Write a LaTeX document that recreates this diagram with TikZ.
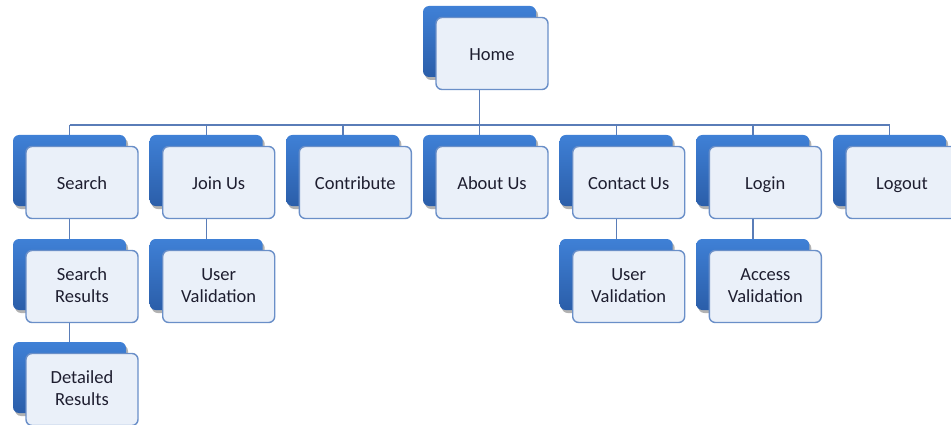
\documentclass[tikz,border=0pt]{standalone}
\usepackage{fontspec}
\setmainfont{Carlito}
\usetikzlibrary{shadows}
\pgfdeclarelayer{background}
\pgfsetlayers{background,main}
\definecolor{backtop}{HTML}{3F80D6}
\definecolor{backbot}{HTML}{2B5EA9}
\definecolor{frontfill}{HTML}{EAF0F9}
\definecolor{frontline}{HTML}{6A8FC8}
\definecolor{linkline}{HTML}{5A7DB8}
\definecolor{labeltext}{HTML}{1E1E30}
\tikzset{
  backbox/.style={rectangle, rounded corners=6pt, minimum width=113pt,
    minimum height=71pt, top color=backtop, bottom color=backbot, draw=none,
    drop shadow={shadow xshift=2pt, shadow yshift=-3pt, opacity=0.3, fill=black}},
  frontbox/.style={rectangle, rounded corners=6pt, minimum width=112pt,
    minimum height=72pt, fill=frontfill, draw=frontline, line width=1.4pt,
    align=center, font=\fontsize{18.5}{22}\selectfont, text=labeltext, inner sep=0pt,
    execute at begin node=\rule{0pt}{20pt}},
  link/.style={draw=linkline, line width=1.4pt}
}
% [#1] depth kept under the last line, #2 name, #3 left edge of the back card,
% #4 top edge of the back card, #5 label
\newcommand\sitecard[5][6.2pt]{%
  \node[backbox] (#2b) at (#3+56.5, #4+35.5) {};
  \node[frontbox, execute at end node={\rule[-#1]{0pt}{0pt}}] (#2) at (#3+69, #4+47.5) {#5};}
\begin{document}
\begin{tikzpicture}[x=1pt, y=-1pt]
  \useasboundingbox (0,0) rectangle (951,425);
  \coordinate (bus) at (0,125);

  \sitecard{home}{423}{6}{Home}

  \sitecard{search}{13}{135}{Search}
  \sitecard{join}{149.7}{135}{Join Us}
  \sitecard{contrib}{286.3}{135}{Contribute}
  \sitecard{about}{423}{135}{About Us}
  \sitecard{contact}{559.7}{135}{Contact Us}
  \sitecard{login}{696.3}{135}{Login}
  \sitecard{logout}{833}{135}{Logout}

  \sitecard[2pt]{results}{13}{239}{Search\\Results}
  \sitecard[2pt]{joinval}{149.7}{239}{User\\Validation}
  \sitecard[2pt]{contactval}{559.7}{239}{User\\Validation}
  \sitecard[2pt]{access}{696.3}{239}{Access\\Validation}

  \sitecard[2pt]{detail}{13}{342}{Detailed\\Results}

  \begin{pgfonlayer}{background}
    \draw[link] (homeb.center) -- (homeb.center |- bus);
    \draw[link] (searchb.center |- bus) -- (logoutb.center |- bus);
    \foreach \n in {search,join,contrib,about,contact,login,logout}
      \draw[link] (\n b.center |- bus) -- (\n b.center);
    \draw[link] (searchb.center) -- (resultsb.center);
    \draw[link] (resultsb.center) -- (detailb.center);
    \draw[link] (joinb.center) -- (joinvalb.center);
    \draw[link] (contactb.center) -- (contactvalb.center);
    \draw[link] (loginb.center) -- (accessb.center);
  \end{pgfonlayer}
\end{tikzpicture}
\end{document}
